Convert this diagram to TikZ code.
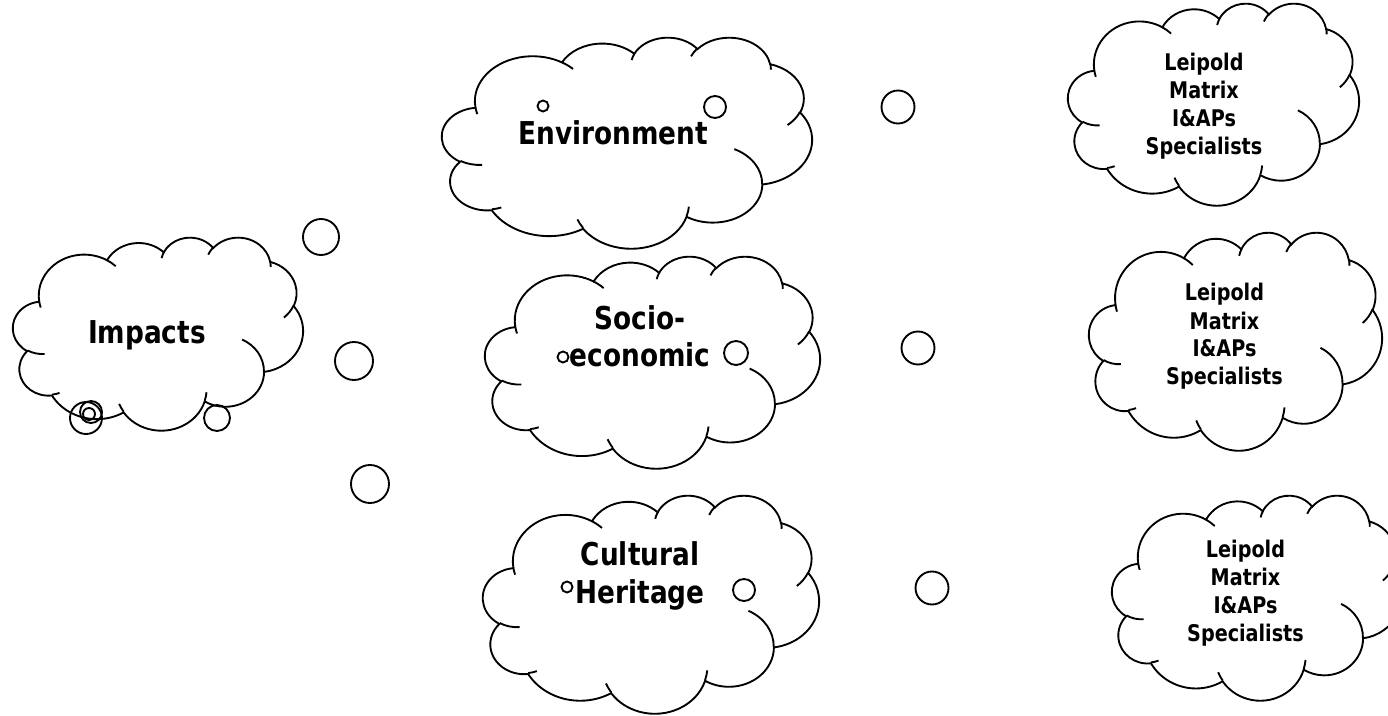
\documentclass[tikz,border=0pt]{standalone}
\usepackage{fontspec}
\setmainfont{DejaVu Sans Condensed}[FakeStretch=0.93]

\tikzset{
  % elliptic arc given by its radii and (visual) start and sweep angles
  cloud arc/.code n args={4}{%
    \pgfmathsetmacro\cloudst{atan2(#1*sin(#3),#2*cos(#3))}%
    \pgfmathsetmacro\clouden{atan2(#1*sin(#3+#4),#2*cos(#3+#4))}%
    \pgfmathsetmacro\clouddl{\clouden-\cloudst}%
    \pgfmathsetmacro\clouddl{\clouddl+(#4>0)*(\clouddl<0)*360-(#4<0)*(\clouddl>0)*360}%
    \edef\cloudnext{start angle=\cloudst,delta angle=\clouddl,x radius=#1,y radius=#2}%
    \expandafter\pgfkeysalso\expandafter{\cloudnext}},
  thought/.style={line width=1.4pt},
  bigtext/.style={font=\bfseries\fontsize{23.6}{28}\selectfont, align=center, anchor=base},
  smalltext/.style={font=\bfseries\fontsize{17.2}{21}\selectfont, align=center, anchor=base},
}

% cloud in the box with top left corner (#1,#2), width #3, height #4
\newcommand\thoughtcloud[4]{%
  \begin{scope}[shift={(#1,#2)},x=#3*0.75pt/432,y=-#4*0.75pt/432]
    \draw[thought,fill=white] (39.00,143.70)
      arc[cloud arc={67.53}{91.90}{-190.487}{123.781}]
      arc[cloud arc={53.33}{72.67}{-144.102}{89.945}]
      arc[cloud arc={43.65}{59.45}{-145.808}{99.723}]
      arc[cloud arc={48.57}{65.95}{-130.986}{117.242}]
      arc[cloud arc={53.33}{72.73}{-78.709}{109.027}]
      arc[cloud arc={67.75}{92.20}{-46.267}{130.269}]
      arc[cloud arc={57.85}{78.67}{0.625}{114.033}]
      arc[cloud arc={67.52}{92.15}{22.452}{115.173}]
      arc[cloud arc={77.20}{105.43}{66.243}{75.711}]
      arc[cloud arc={43.60}{59.18}{-274.942}{146.736}]
      arc[cloud arc={43.45}{59.45}{-246.829}{152.519}]
      -- cycle;
    \draw[thought]
      (46.93,261.77) arc[cloud arc={43.45}{59.45}{86.742}{26.430}]
      (69.28,348.99) arc[cloud arc={43.60}{59.18}{73.610}{11.447}]
      (164.78,390.90) arc[cloud arc={67.52}{92.15}{137.624}{14.081}]
      (288.27,347.51) arc[cloud arc={67.52}{92.15}{6.453}{15.998}]
      (341.29,229.54) arc[cloud arc={57.85}{78.67}{-70.292}{70.917}]
      (417.98,153.54) arc[cloud arc={53.33}{72.73}{30.318}{27.752}]
      (383.24,54.26) arc[cloud arc={48.57}{65.95}{-13.744}{14.852}]
      (290.78,39.52) arc[cloud arc={48.57}{65.95}{-149.181}{18.195}]
      (221.41,47.20) arc[cloud arc={43.65}{59.45}{-163.494}{17.686}]
      (140.00,51.92) arc[cloud arc={67.53}{91.90}{-66.707}{12.319}]
      (41.27,157.89) arc[cloud arc={67.53}{91.90}{157.654}{11.858}];
  \end{scope}}

\begin{document}
\begin{tikzpicture}[x=0.75pt,y=-0.75pt]
  \useasboundingbox (0,0) rectangle (1388,716);
  \clip (0,0) rectangle (1388,716);

  % clouds
  \thoughtcloud{13}{237}{290}{193}
  \thoughtcloud{442}{37}{370}{211}
  \thoughtcloud{485}{256}{335}{212}
  \thoughtcloud{483}{495}{336}{218}
  \thoughtcloud{1068}{3}{291}{202}
  \thoughtcloud{1089}{232}{293}{218}
  \thoughtcloud{1112}{495}{290}{205}

  % bubbles
  \draw[thought] (321,237) circle[radius=18];
  \draw[thought] (354,361) circle[radius=19];
  \draw[thought] (370,484) circle[radius=19];
  \draw[thought] (86,418) circle[radius=16];
  \draw[thought] (91,412) circle[radius=11];
  \draw[thought] (89,414) circle[radius=6];
  \draw[thought] (217,418) circle[radius=13];
  \draw[thought] (543,106) circle[radius=5.5];
  \draw[thought] (715,107) circle[radius=11];
  \draw[thought] (898,107) circle[radius=16.5];
  \draw[thought] (563,357) circle[radius=5.5];
  \draw[thought] (736,353) circle[radius=12];
  \draw[thought] (918,348) circle[radius=16.5];
  \draw[thought] (567,587) circle[radius=5.5];
  \draw[thought] (744,590) circle[radius=11];
  \draw[thought] (932,588) circle[radius=16.5];

  % texts (base = last line)
  \node[bigtext] (impacts) at (147,344) {Impacts};
  \node[bigtext] (environment) at (613,145) {Environment};
  \node[bigtext] (socio) at (640,367) {Socio-\\economic};
  \node[bigtext] (cultural) at (640,603) {Cultural\\Heritage};
  \node[smalltext] (methodsa) at (1204,155) {Leipold\\Matrix\\I\&APs\\Specialists};
  \node[smalltext] (methodsb) at (1224.5,385) {Leipold\\Matrix\\I\&APs\\Specialists};
  \node[smalltext] (methodsc) at (1245.5,641) {Leipold\\Matrix\\I\&APs\\Specialists};
\end{tikzpicture}
\end{document}
